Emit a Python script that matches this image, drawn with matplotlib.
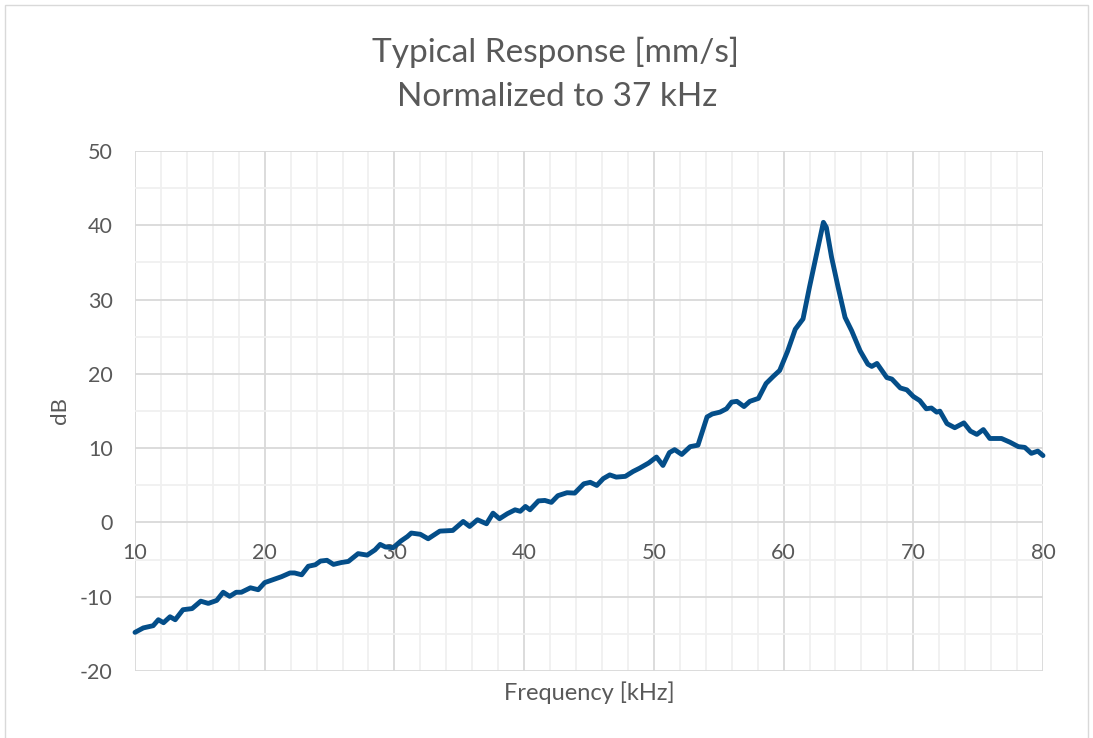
import matplotlib
matplotlib.use("Agg")
import matplotlib.pyplot as plt
from matplotlib.patches import Rectangle
from matplotlib.ticker import MultipleLocator

freq_khz = [10.0, 10.64, 11.4, 11.8, 12.2, 12.7, 13.1, 13.7, 14.4, 15.07, 15.65, 16.3, 16.8,
            17.3, 17.8, 18.2, 18.9, 19.5, 20.0, 20.66, 21.3, 21.95, 22.3, 22.85, 23.36, 23.9,
            24.3, 24.8, 25.3, 25.9, 26.45, 27.2, 27.9, 28.5, 28.9, 29.3, 29.9, 30.5, 31.0,
            31.3, 32.0, 32.6, 33.5, 34.5, 35.3, 35.8, 36.4, 37.1, 37.6, 38.1, 38.7, 39.3,
            39.7, 40.1, 40.45, 41.1, 41.6, 42.1, 42.6, 43.3, 43.9, 44.6, 45.1, 45.6, 46.1,
            46.6, 47.1, 47.8, 48.4, 48.9, 49.6, 50.2, 50.7, 51.2, 51.6, 52.15, 52.8, 53.4,
            54.1, 54.5, 55.1, 55.6, 56.0, 56.4, 56.95, 57.4, 58.06, 58.65, 59.2, 59.7,
            60.3, 60.9, 61.5, 62.0, 62.55, 63.07, 63.3, 63.7, 64.2, 64.74, 65.25, 65.9,
            66.5, 66.8, 67.2, 67.96, 68.35, 69.0, 69.5, 70.0, 70.5, 71.0, 71.4, 71.8,
            72.05, 72.6, 73.2, 73.9, 74.4, 74.9, 75.4, 75.9, 76.8, 77.45, 78.1, 78.6,
            79.1, 79.6, 80.0]
response_db = [-14.8, -14.2, -13.9, -13.1, -13.5, -12.7, -13.1, -11.75, -11.6, -10.6, -10.9,
               -10.5, -9.4, -9.95, -9.4, -9.4, -8.8, -9.06, -8.1, -7.7, -7.3, -6.8, -6.8,
               -7.05, -5.9, -5.7, -5.2, -5.1, -5.65, -5.4, -5.25, -4.2, -4.4, -3.7, -2.96,
               -3.3, -3.4, -2.5, -1.9, -1.43, -1.6, -2.2, -1.17, -1.08, 0.13, -0.54, 0.36,
               -0.18, 1.25, 0.5, 1.17, 1.7, 1.5, 2.15, 1.7, 2.9, 2.96, 2.7, 3.6, 4.0, 3.95,
               5.2, 5.4, 4.98, 5.9, 6.4, 6.1, 6.2, 6.86, 7.3, 8.0, 8.8, 7.67, 9.4, 9.8,
               9.15, 10.2, 10.4, 14.2, 14.6, 14.85, 15.3, 16.2, 16.3, 15.6, 16.3, 16.7,
               18.7, 19.65, 20.46, 23.0, 26.0, 27.4, 31.7, 36.2, 40.4, 39.7, 35.7, 31.7,
               27.6, 25.8, 23.1, 21.3, 21.0, 21.4, 19.5, 19.3, 18.1, 17.85, 16.96, 16.4,
               15.3, 15.4, 14.85, 14.98, 13.3, 12.75, 13.4, 12.3, 11.85, 12.5, 11.3, 11.3,
               10.8, 10.2, 10.1, 9.3, 9.6, 9.0]

title_lines = ["Typical Response [mm/s]", "Normalized to 37 kHz"]
x_label = "Frequency [kHz]"
y_label = "dB"

plt.rcParams['font.family'] = ['Lato', 'DejaVu Sans']
plt.rcParams['axes.unicode_minus'] = False
text_color = "#595959"

W, H = 1093, 738
fig = plt.figure(figsize=(W / 100, H / 100), dpi=100)
ax = fig.add_axes([135 / W, 1 - 671 / H, (1043 - 135) / W, (671 - 151) / H])

ax.set_xlim(10, 80)
ax.set_ylim(-20, 50)
ax.xaxis.set_major_locator(MultipleLocator(10))
ax.xaxis.set_minor_locator(MultipleLocator(2))
ax.yaxis.set_major_locator(MultipleLocator(10))
ax.yaxis.set_minor_locator(MultipleLocator(5))

ax.grid(which="major", color="#D9D9D9", linewidth=1.3, zorder=0)
ax.grid(which="minor", color="#F0F0F0", linewidth=1.3, zorder=0)
ax.set_axisbelow(True)

for s in ["top", "right", "left"]:
    ax.spines[s].set_visible(False)
ax.spines["bottom"].set_position(("data", 0))
ax.spines["bottom"].set_visible(False)

ax.tick_params(which="both", length=0)
ax.tick_params(axis="x", labelsize=15.5, labelcolor=text_color, pad=15)
ax.tick_params(axis="y", labelsize=15.5, labelcolor=text_color, pad=16)

ax.plot(freq_khz, response_db, color="#044E89", linewidth=3.5, solid_joinstyle="round",
        solid_capstyle="round", zorder=3, clip_on=False)

fig.text(556 / W, 1 - 52 / H, title_lines[0], ha="center", va="center",
         fontsize=24, color=text_color)
fig.text(557 / W, 1 - 97 / H, title_lines[1], ha="center", va="center",
         fontsize=24, color=text_color)
fig.text(589 / W, 1 - 693 / H, x_label, ha="center", va="center",
         fontsize=17, color=text_color)
fig.text(60 / W, 1 - 411 / H, y_label, ha="center", va="center",
         fontsize=16, color=text_color, rotation=90)

fig.patches.append(Rectangle((5 / W, -0.05), (1088 - 5) / W, 1.05 - 5 / H,
                             transform=fig.transFigure, fill=False,
                             edgecolor="#D9D9D9", linewidth=1.0))

fig.savefig("out.png", dpi=100, facecolor="white")
